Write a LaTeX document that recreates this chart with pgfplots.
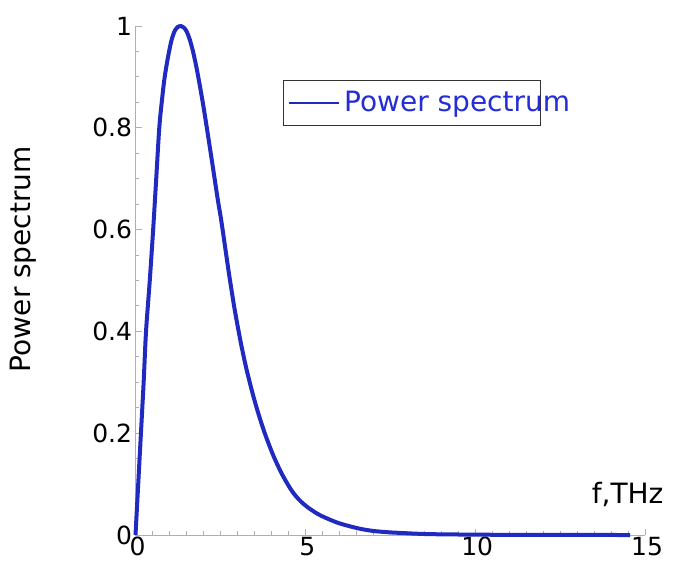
\documentclass[border=0pt]{standalone}
\usepackage{pgfplots}
\pgfplotsset{compat=1.18}
\usepackage{fontspec}
\setmainfont{DejaVu Sans}
\definecolor{curveblue}{RGB}{32,42,192}
\definecolor{legtext}{RGB}{36,46,214}
\definecolor{axgray}{RGB}{175,175,175}
\begin{document}
\begin{tikzpicture}
\begin{axis}[
  name=ax,
  scale only axis,
  width=254.75pt, height=254.5pt,
  xmin=0, xmax=15, ymin=0, ymax=1,
  axis x line=bottom, axis y line=left,
  axis line style={axgray, line width=0.5pt, -},
  every tick/.style={axgray, line width=0.5pt},
  xtick={0,5,10,15}, ytick={0,0.2,0.4,0.6,0.8,1},
  minor x tick num=9, minor y tick num=3,
  tick align=inside,
  major tick length=3pt, minor tick length=1.8pt,
  /pgf/number format/assume math mode=true,
  tick label style={font=\fontsize{12.5}{14}\selectfont, black},
  yticklabel style={inner xsep=1.5pt},
  xticklabel style={inner ysep=1pt, xshift=1pt},
  xlabel={f,THz},
  xlabel style={at={(axis description cs:1.05,0.079)}, anchor=east, font=\fontsize{14}{16}\selectfont},
  ylabel={Power spectrum},
  ylabel style={at={(axis description cs:-0.22,0.542)}, anchor=center, font=\fontsize{14}{16}\selectfont},
  legend style={at={(axis description cs:0.2895,0.894)}, anchor=north west,
    draw=black!80, line width=0.5pt, inner xsep=2pt, inner ysep=3.5pt,
    nodes={inner sep=2pt, text=legtext},
    font=\fontsize{14}{16}\selectfont},
  legend image code/.code={\draw[#1, line width=1.3pt] (0pt,0pt) -- (25pt,0pt);},
  clip=false,
]
\addplot[curveblue, line width=2pt, line join=round, smooth] table {
x y
0 0
0.04 0.05
0.08 0.10
0.16 0.20
0.24 0.30
0.31 0.40
0.42 0.50
0.52 0.60
0.61 0.70
0.70 0.80
0.78 0.855
0.86 0.90
0.96 0.94
1.06 0.972
1.16 0.991
1.26 0.999
1.34 1.0
1.42 0.997
1.50 0.99
1.59 0.975
1.70 0.948
1.82 0.91
1.98 0.85
2.10 0.80
2.25 0.735
2.42 0.66
2.52 0.62
2.64 0.565
2.76 0.51
2.92 0.443
3.10 0.378
3.26 0.328
3.44 0.280
3.62 0.238
3.80 0.201
3.98 0.169
4.13 0.145
4.35 0.115
4.61 0.086
4.85 0.067
5.10 0.053
5.35 0.042
5.59 0.034
6.00 0.023
6.56 0.013
7.00 0.008
7.54 0.005
8.50 0.002
9.50 0.001
10.5 0.0005
12.0 0.0002
14.56 0.0
};
\addlegendentry{\makebox[94pt][l]{Power spectrum}}
\end{axis}
\pgfresetboundingbox
\path ([shift={(-67.75pt,-14.5pt)}]ax.south west) rectangle ([shift={(268.75pt,267.5pt)}]ax.south west);
\end{tikzpicture}
\end{document}
